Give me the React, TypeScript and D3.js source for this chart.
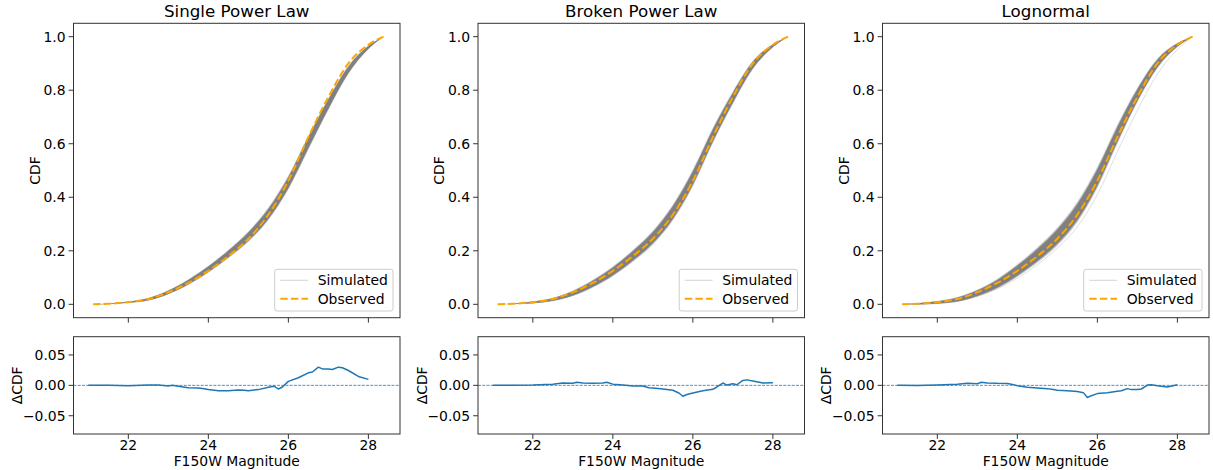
import React from "react";
import * as d3 from "d3";

// ---------- data ----------
const panelTitles = ["Single Power Law", "Broken Power Law", "Lognormal"];

const magGrid = [21.12, 21.5, 22.0, 22.5, 23.0, 23.5, 24.0, 24.5, 25.0, 25.5, 26.0, 26.5, 27.0, 27.5, 28.0, 28.38];
const observedCdf = [0, 0.002, 0.008, 0.02, 0.045, 0.08, 0.125, 0.18, 0.245, 0.335, 0.462, 0.625, 0.775, 0.9, 0.97, 1.0];

const simCenter1 = [0, 0.002, 0.008, 0.019, 0.045, 0.083, 0.131, 0.188, 0.253, 0.338, 0.455, 0.604, 0.748, 0.876, 0.96, 1.0];
const simCenter2 = [0, 0.002, 0.007, 0.018, 0.041, 0.077, 0.123, 0.181, 0.249, 0.343, 0.472, 0.631, 0.772, 0.894, 0.966, 1.0];
const simCenter3 = [0, 0.002, 0.007, 0.018, 0.042, 0.077, 0.126, 0.184, 0.253, 0.345, 0.474, 0.635, 0.782, 0.9, 0.969, 1.0];

const simSpread1 = [0, 0.001, 0.002, 0.004, 0.006, 0.008, 0.01, 0.012, 0.015, 0.018, 0.02, 0.02, 0.017, 0.012, 0.005, 0];
const simSpread2 = [0, 0.001, 0.003, 0.005, 0.008, 0.011, 0.014, 0.017, 0.02, 0.023, 0.024, 0.022, 0.018, 0.012, 0.005, 0];
const simSpread3 = [0, 0.002, 0.004, 0.007, 0.01, 0.014, 0.018, 0.022, 0.026, 0.029, 0.03, 0.027, 0.021, 0.014, 0.006, 0];

const simOutlier3 = [0, 0.001, 0.004, 0.012, 0.03, 0.058, 0.098, 0.148, 0.21, 0.29, 0.41, 0.57, 0.725, 0.86, 0.952, 1.0];

const residMag = [21.0, 21.5, 22.0, 22.5, 22.75, 23.0, 23.1, 23.25, 23.5, 23.75, 23.85, 24.0, 24.25, 24.5, 24.75, 24.9, 25.0, 25.25, 25.5, 25.65, 25.75, 25.85, 26.0, 26.25, 26.5, 26.6, 26.75, 26.85, 27.0, 27.1, 27.25, 27.35, 27.5, 27.75, 28.0];
const resid1 = [0, 0, -0.0005, 0.0005, 0.0005, -0.001, 0, -0.0015, -0.004, -0.0043, -0.005, -0.007, -0.0087, -0.0087, -0.0076, -0.008, -0.0087, -0.007, -0.003, -0.0016, -0.006, -0.0027, 0.0065, 0.0125, 0.0206, 0.022, 0.0299, 0.027, 0.027, 0.026, 0.0299, 0.029, 0.0244, 0.0147, 0.0098];
const resid2 = [0, 0, 0.0005, 0.002, 0.0038, 0.0033, 0.005, 0.004, 0.0033, 0.004, 0.005, 0.002, 0.0005, -0.001, -0.001, -0.004, -0.0043, -0.006, -0.008, -0.0125, -0.018, -0.015, -0.0125, -0.009, -0.0065, -0.0027, 0.0038, 0.0005, 0.0027, 0.001, 0.008, 0.009, 0.007, 0.0038, 0.0043];
const resid3 = [0, -0.0003, 0.0005, 0.002, 0.0033, 0.0027, 0.005, 0.004, 0.0033, 0.003, 0.002, -0.0005, -0.003, -0.0043, -0.0054, -0.007, -0.008, -0.0087, -0.0103, -0.012, -0.02, -0.017, -0.0136, -0.012, -0.0098, -0.009, -0.0054, -0.007, -0.007, -0.006, 0.0005, 0.001, -0.0005, -0.0027, 0.001];

const cdfTicks = [0, 0.2, 0.4, 0.6, 0.8, 1.0];
const residTicks = [-0.05, 0, 0.05];
const magTicks = [22, 24, 26, 28];
const legendLabels = ["Simulated", "Observed"];

const panels = [
  { title: panelTitles[0], sim: simCenter1, spread: simSpread1, resid: resid1, outliers: [] as number[][] },
  { title: panelTitles[1], sim: simCenter2, spread: simSpread2, resid: resid2, outliers: [] as number[][] },
  { title: panelTitles[2], sim: simCenter3, spread: simSpread3, resid: resid3, outliers: [simOutlier3] },
];

// ---------- layout ----------
const W = 1213;
const H = 470;
const lefts = [73.5, 478, 882.5];
const pw = 326.5;
const topY0 = 23.3, topY1 = 317.7;
const botY0 = 336.7, botY1 = 434;
const FONT = "DejaVu Sans, sans-serif";
const fs = 13.9;

function fmtResid(v: number) {
  const s = Math.abs(v).toFixed(2);
  return v < 0 ? "\u2212" + s : s;
}

function Panel({ idx }: { idx: number }) {
  const p = panels[idx];
  const left = lefts[idx];
  const x = d3.scaleLinear().domain([20.63, 28.79]).range([left, left + pw]);
  const y = d3.scaleLinear().domain([-0.05, 1.05]).range([topY1, topY0]);
  const yr = d3.scaleLinear().domain([-0.08, 0.08]).range([botY1, botY0]);

  const idxs = magGrid.map((_, i) => i);
  const area = (k: number) =>
    d3.area<number>()
      .x((i) => x(magGrid[i]))
      .y0((i) => y(p.sim[i] - p.spread[i] * k))
      .y1((i) => y(p.sim[i] + p.spread[i] * k))
      .curve(d3.curveMonotoneX)(idxs) || "";
  const simLine = (arr: number[]) =>
    d3.line<number>().x((i) => x(magGrid[i])).y((i) => y(arr[i])).curve(d3.curveMonotoneX)(idxs) || "";
  const obsPath = simLine(observedCdf);
  const residPath =
    d3.line<number>().x((i) => x(residMag[i])).y((i) => yr(p.resid[i]))(residMag.map((_, i) => i)) || "";

  const clipId = `clip-top-${idx}`;
  const lgX = left + pw - 7 - 118.3;
  const lgY = topY1 - 6.7 - 41.7;

  return (
    <g>
      <defs>
        <clipPath id={clipId}>
          <rect x={left} y={topY0} width={pw} height={topY1 - topY0} />
        </clipPath>
      </defs>
      <text x={left + pw / 2} y={17} textAnchor="middle" fontSize={16.7} fontFamily={FONT} fill="#000">
        {p.title}
      </text>

      <g clipPath={`url(#${clipId})`}>
        <path d={area(1.35)} fill="#808080" opacity={0.3} />
        <path d={area(1.15)} fill="#808080" opacity={0.5} />
        <path d={area(1)} fill="#808080" opacity={1} />
        {p.outliers.map((o, k) => (
          <path key={k} d={simLine(o)} fill="none" stroke="#808080" strokeOpacity={0.25} strokeWidth={1} />
        ))}
        <path d={obsPath} fill="none" stroke="#ffa500" strokeWidth={2} strokeDasharray="7.4,3.2" />
      </g>
      <rect x={left} y={topY0} width={pw} height={topY1 - topY0} fill="none" stroke="#333" strokeWidth={1} />
      {cdfTicks.map((t) => (
        <g key={t}>
          <line x1={left - 4.9} x2={left} y1={y(t)} y2={y(t)} stroke="#333" strokeWidth={1} />
          <text x={left - 8} y={y(t)} dy="0.35em" textAnchor="end" fontSize={fs} fontFamily={FONT} fill="#000">
            {t.toFixed(1)}
          </text>
        </g>
      ))}
      {magTicks.map((t) => (
        <line key={t} x1={x(t)} x2={x(t)} y1={topY1} y2={topY1 + 4.9} stroke="#333" strokeWidth={1} />
      ))}
      <text
        transform={`translate(${left - 38.5},${(topY0 + topY1) / 2}) rotate(-90)`}
        textAnchor="middle"
        dy="0.35em"
        fontSize={fs}
        fontFamily={FONT}
        fill="#000"
      >
        CDF
      </text>

      <rect x={lgX} y={lgY} width={118.3} height={41.7} rx={2.5} fill="#fff" fillOpacity={0.8} stroke="#ccc" strokeWidth={1} />
      <line x1={lgX + 5.6} x2={lgX + 33.4} y1={lgY + 11} y2={lgY + 11} stroke="#808080" strokeOpacity={0.35} strokeWidth={1} />
      <text x={lgX + 43} y={lgY + 11} dy="0.35em" fontSize={fs} fontFamily={FONT} fill="#000">
        {legendLabels[0]}
      </text>
      <line x1={lgX + 5.6} x2={lgX + 33.4} y1={lgY + 29.5} y2={lgY + 29.5} stroke="#ffa500" strokeWidth={2} strokeDasharray="7.4,3.2" />
      <text x={lgX + 43} y={lgY + 29.5} dy="0.35em" fontSize={fs} fontFamily={FONT} fill="#000">
        {legendLabels[1]}
      </text>

      <line x1={left} x2={left + pw} y1={yr(0)} y2={yr(0)} stroke="#1f77b4" strokeWidth={0.8} strokeDasharray="2.96,1.28" />
      <path d={residPath} fill="none" stroke="#1f77b4" strokeWidth={1.5} strokeLinejoin="round" />
      <rect x={left} y={botY0} width={pw} height={botY1 - botY0} fill="none" stroke="#333" strokeWidth={1} />
      {residTicks.map((t) => (
        <g key={t}>
          <line x1={left - 4.9} x2={left} y1={yr(t)} y2={yr(t)} stroke="#333" strokeWidth={1} />
          <text x={left - 8} y={yr(t)} dy="0.35em" textAnchor="end" fontSize={fs} fontFamily={FONT} fill="#000">
            {fmtResid(t)}
          </text>
        </g>
      ))}
      {magTicks.map((t) => (
        <g key={t}>
          <line x1={x(t)} x2={x(t)} y1={botY1} y2={botY1 + 4.9} stroke="#333" strokeWidth={1} />
          <text x={x(t)} y={449.5} textAnchor="middle" fontSize={fs} fontFamily={FONT} fill="#000">
            {t}
          </text>
        </g>
      ))}
      <text x={left + pw / 2} y={465.5} textAnchor="middle" fontSize={fs} fontFamily={FONT} fill="#000">
        F150W Magnitude
      </text>
      <text
        transform={`translate(${left - 56},${(botY0 + botY1) / 2}) rotate(-90)`}
        textAnchor="middle"
        dy="0.35em"
        fontSize={fs}
        fontFamily={FONT}
        fill="#000"
      >
        ΔCDF
      </text>
    </g>
  );
}

export default function App() {
  return (
    <svg
      width={W}
      height={H}
      viewBox={`0 0 ${W} ${H}`}
      style={{ position: "absolute", left: 0, top: 0, background: "#fff" }}
    >
      <rect x={0} y={0} width={W} height={H} fill="#fff" />
      {panels.map((_, i) => (
        <Panel key={i} idx={i} />
      ))}
    </svg>
  );
}
